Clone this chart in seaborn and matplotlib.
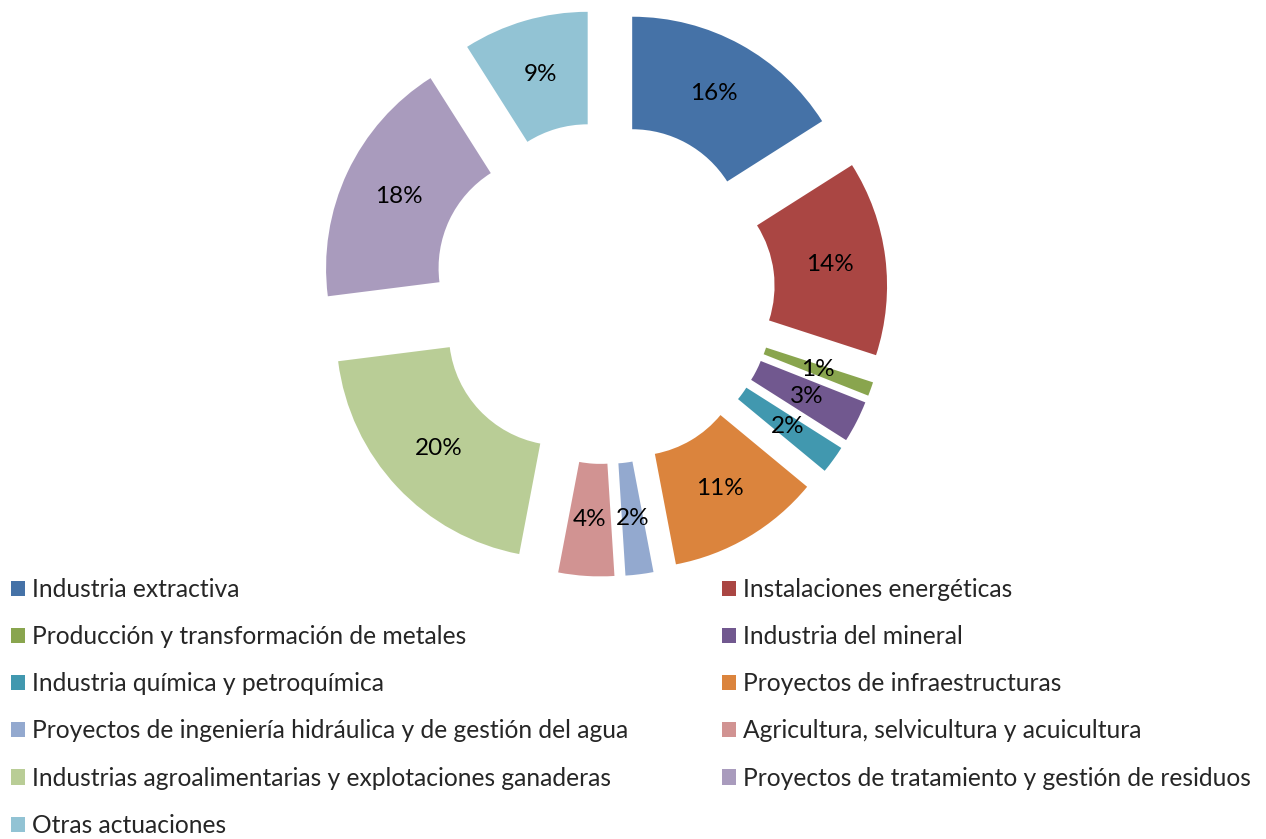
import matplotlib
matplotlib.use('Agg')
import matplotlib.pyplot as plt
import seaborn as sns

# Data
categorias = [
    'Industria extractiva',
    'Instalaciones energéticas',
    'Producción y transformación de metales',
    'Industria del mineral',
    'Industria química y petroquímica',
    'Proyectos de infraestructuras',
    'Proyectos de ingeniería hidráulica y de gestión del agua',
    'Agricultura, selvicultura y acuicultura',
    'Industrias agroalimentarias y explotaciones ganaderas',
    'Proyectos de tratamiento y gestión de residuos',
    'Otras actuaciones',
]
porcentajes = [16, 14, 1, 3, 2, 11, 2, 4, 20, 18, 9]

colores = ['#4572A7', '#AA4643', '#89A54E', '#71588F', '#4198AF', '#DB843D',
           '#93A9CF', '#D19392', '#B9CD96', '#A99BBD', '#92C3D4']

sns.set_theme(style='white')
plt.rcParams['font.family'] = ['Lato', 'DejaVu Sans']

W, H = 1266, 839
fig = plt.figure(figsize=(W / 100, H / 100), dpi=100)

# Donut centre and radius in pixels
cx, cy, R = 604, 293, 225
L = 1.3
side = 2 * L * R
ax = fig.add_axes([(cx - side / 2) / W, (H - cy - side / 2) / H, side / W, side / H])

palette = sns.color_palette(colores)
wedges, texts, autotexts = ax.pie(
    porcentajes,
    colors=palette,
    startangle=90,
    counterclock=False,
    explode=[0.26] * len(porcentajes),
    autopct='%.0f%%',
    pctdistance=0.75,
    wedgeprops=dict(width=0.5, edgecolor='none'),
    textprops=dict(fontsize=17.5, color='black'),
)
ax.set_xlim(-L, L)
ax.set_ylim(-L, L)
ax.axis('off')

# Legend laid out row-wise in two columns
izq = [0, 2, 4, 6, 8, 10]
der = [1, 3, 5, 7, 9]
opts = dict(frameon=False, fontsize=17.75, handlelength=0.57, handleheight=0.57,
            handletextpad=0.3, labelspacing=0.98, borderpad=0, borderaxespad=0,
            loc='upper left')
fig.legend([wedges[i] for i in izq], [categorias[i] for i in izq],
           bbox_to_anchor=(11 / W, 1 - 578 / H), **opts)
fig.legend([wedges[i] for i in der], [categorias[i] for i in der],
           bbox_to_anchor=(722 / W, 1 - 578 / H), **opts)

fig.savefig('out.png', dpi=100)
